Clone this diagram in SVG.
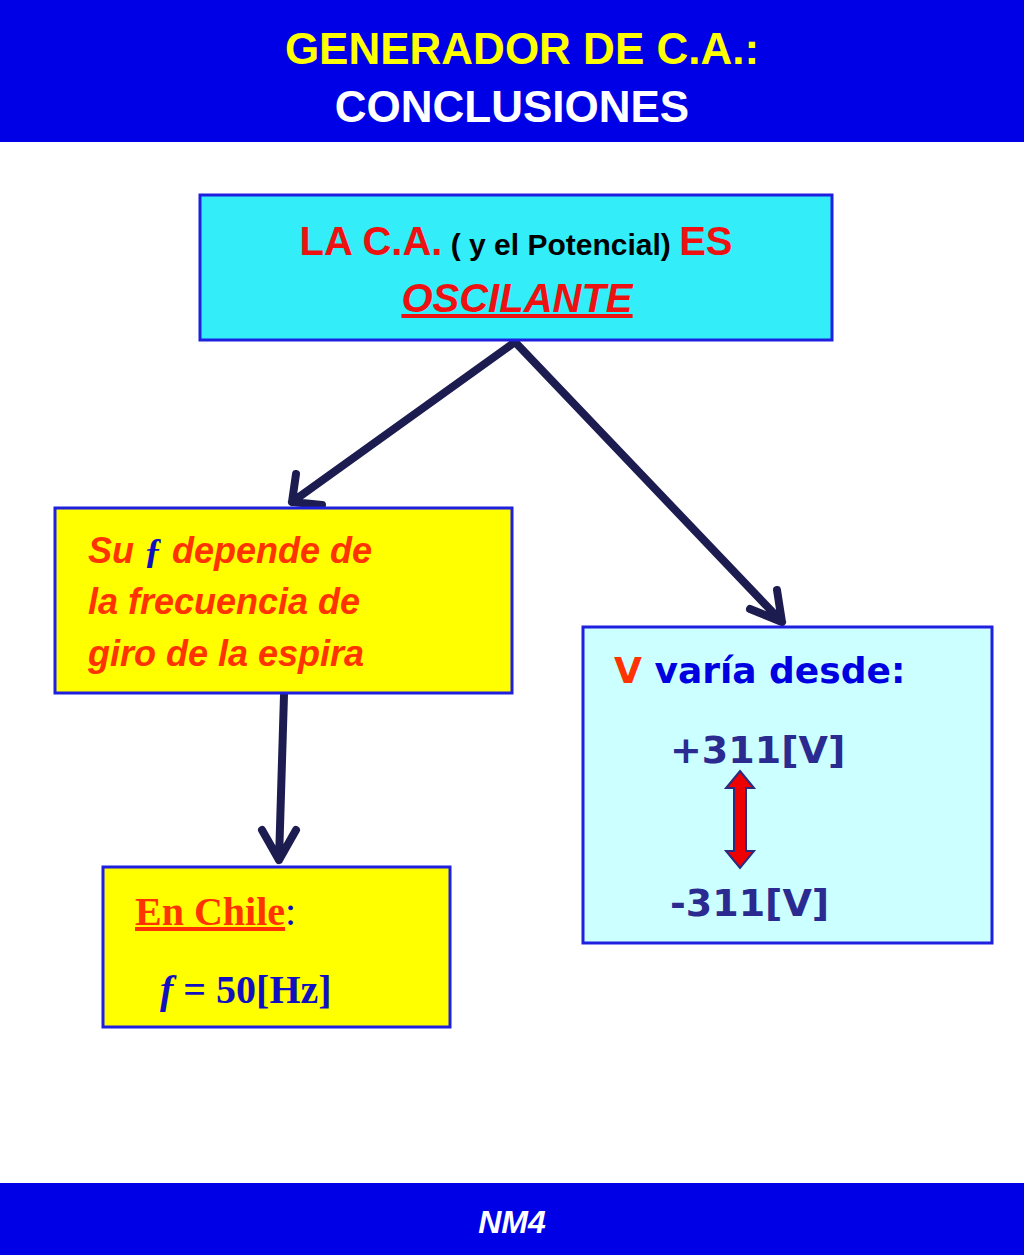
<svg xmlns="http://www.w3.org/2000/svg" width="1024" height="1255" viewBox="0 0 1024 1255">
<style>
.band{fill:#0000E6}
.box{stroke:#1F1FE0;stroke-width:3}
.arrow{stroke:#1C1C50;stroke-width:8;fill:none;stroke-linecap:round;stroke-linejoin:round}
.sans{font-family:"Liberation Sans",Arial,sans-serif;font-weight:bold}
.comic{font-family:"DejaVu Sans",sans-serif;font-weight:bold}
.serif{font-family:"Liberation Serif","Times New Roman",serif;font-weight:bold}
</style>
<rect width="1024" height="1255" fill="#fff"/>
<g id="header">
<rect class="band" x="0" y="0" width="1024" height="142"/>
<text x="522" y="64" text-anchor="middle" class="sans" font-size="44" fill="#FFFF00">GENERADOR DE C.A.:</text>
<text x="512" y="122" text-anchor="middle" class="sans" font-size="44" fill="#fff">CONCLUSIONES</text>
</g>
<g id="footer">
<rect class="band" x="0" y="1183" width="1024" height="72"/>
<text x="512" y="1233" text-anchor="middle" class="sans" font-style="italic" font-size="32" fill="#fff">NM4</text>
</g>
<g id="connectors">
<path class="arrow" d="M515 342 L292 502 M296 474 L292 502 L322 505"/>
<path class="arrow" d="M515 342 L782 622 M750 609 L782 622 L777 590"/>
<path class="arrow" d="M284 695 L279 860 M262 830 L279 860 L296 830"/>
</g>
<g id="top">
<rect class="box" x="200" y="195" width="632" height="145" fill="#33EEF8" stroke="#1C2A60" stroke-width="2"/>
<text x="516" y="255" text-anchor="middle" class="sans" font-size="40"><tspan fill="#EE1111">LA C.A.</tspan><tspan fill="#000" font-size="30"> ( y el Potencial) </tspan><tspan fill="#EE1111">ES</tspan></text>
<text x="517" y="312" text-anchor="middle" class="sans" font-size="40" font-style="italic" fill="#EE1111" text-decoration="underline">OSCILANTE</text>
</g>
<g id="left">
<rect class="box" x="55" y="508" width="457" height="185" fill="#FFFF00"/>
<g class="sans" font-size="36" font-style="italic" fill="#FF3300">
<text x="88" y="563">Su <tspan class="serif" fill="#1010C0" font-style="italic">ƒ</tspan>  depende de</text>
<text x="88" y="614">la frecuencia de</text>
<text x="88" y="666">giro de la espira</text>
</g>
</g>
<g id="chile">
<rect class="box" x="103" y="867" width="347" height="160" fill="#FFFF00"/>
<text x="135" y="925" class="serif" font-size="40"><tspan fill="#FF3300" text-decoration="underline">En Chile</tspan><tspan fill="#1010C0" font-weight="normal">:</tspan></text>
<text x="160" y="1003" class="serif" font-size="40" fill="#1010C0"><tspan font-style="italic">f</tspan> = 50[Hz]</text>
</g>
<g id="right">
<rect class="box" x="583" y="627" width="409" height="316" fill="#CCFFFF"/>
<text x="614" y="683" class="comic" font-size="36"><tspan fill="#FF3300">V</tspan><tspan fill="#0000E0"> varía desde:</tspan></text>
<text x="670" y="763" class="comic" font-size="38" fill="#2A2A90">+311[V]</text>
<text x="670" y="916" class="comic" font-size="38" fill="#2A2A90">-311[V]</text>
<path d="M740 771 L754 788 L746 788 L746 851 L754 851 L740 868 L726 851 L734 851 L734 788 L726 788 Z" fill="#EE0000" stroke="#2A2A80" stroke-width="2"/>
</g>
</svg>
